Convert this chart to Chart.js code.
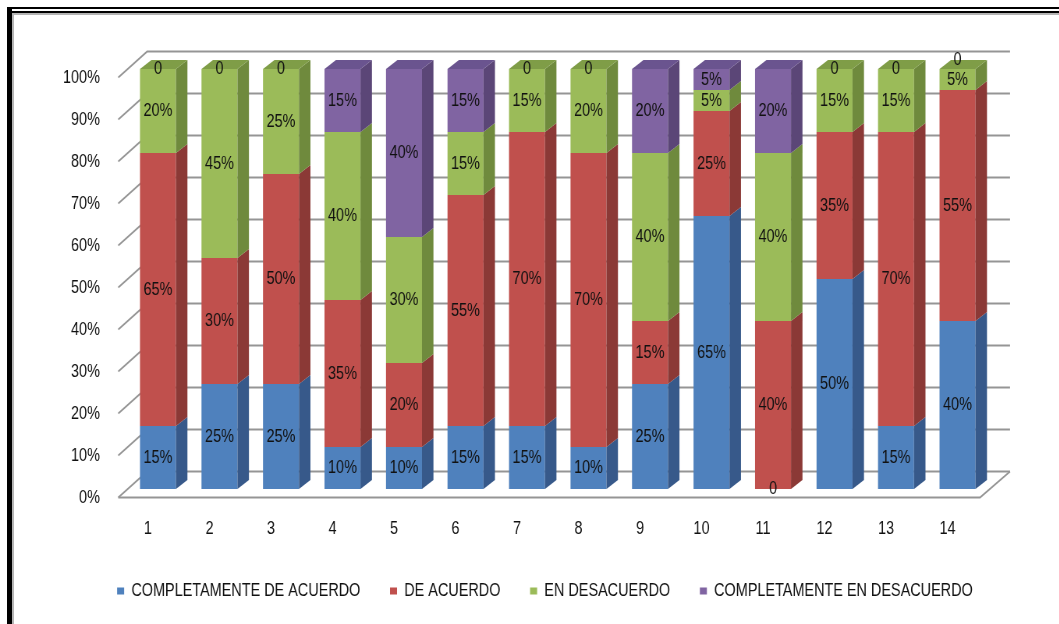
<!DOCTYPE html>
<html>
<head>
<meta charset="utf-8">
<script src="https://cdn.jsdelivr.net/npm/chart.js@4.4.1/dist/chart.umd.min.js"></script>
<style>
  html, body { margin: 0; padding: 0; background: #fff; overflow: hidden; width: 1059px; height: 624px; }
  /* the chart is laid out wide and squeezed horizontally, giving the narrow lettering */
  #stage { position: absolute; left: 0; top: 0; width: 1358px; height: 624px; transform: scaleX(0.78); transform-origin: 0 0; }
  .rule { position: absolute; }
</style>
</head>
<body>
<div id="stage"><canvas id="chart"></canvas></div>
<!-- double frame along the top and left edges -->
<div class="rule" style="left:7px;top:7px;width:1052px;height:2px;background:#000"></div>
<div class="rule" style="left:7px;top:11px;width:1052px;height:2px;background:#000"></div>
<div class="rule" style="left:12px;top:13px;width:1047px;height:2px;background:#b4b4b4"></div>
<div class="rule" style="left:7px;top:7px;width:5px;height:617px;background:#000"></div>
<div class="rule" style="left:12px;top:13px;width:2px;height:611px;background:#b4b4b4"></div>
<script>
// Survey items 1..14 and the share of answers per option (percent)
const categories = ['1', '2', '3', '4', '5', '6', '7', '8', '9', '10', '11', '12', '13', '14'];
const completamenteDeAcuerdo   = [15, 25, 25, 10, 10, 15, 15, 10, 25, 65,  0, 50, 15, 40];
const deAcuerdo                = [65, 30, 50, 35, 20, 55, 70, 70, 15, 25, 40, 35, 70, 55];
const enDesacuerdo             = [20, 45, 25, 40, 30, 15, 15, 20, 40,  5, 40, 15, 15,  5];
const completamenteEnDesacuerdo = [0,  0,  0, 15, 40, 15,  0,  0, 20,  5, 20,  0,  0,  0];
const seriesNames = ['COMPLETAMENTE DE ACUERDO', 'DE ACUERDO', 'EN DESACUERDO', 'COMPLETAMENTE EN DESACUERDO'];
const yTickValues = [0, 10, 20, 30, 40, 50, 60, 70, 80, 90, 100];

const FONT = '"Liberation Sans", Arial, sans-serif';
const FONT_SIZE = 18.5;
const palette = [
  { front: '#4f81bd', side: '#37598a', top: '#4573a8' },
  { front: '#c0504d', side: '#8b3936', top: '#a64542' },
  { front: '#9bbb59', side: '#6f8a3d', top: '#7f9d47' },
  { front: '#8064a2', side: '#5b4677', top: '#6a548f' }
];
const seriesValues = [completamenteDeAcuerdo, deAcuerdo, enDesacuerdo, completamenteEnDesacuerdo];

// 3D geometry (canvas units)
const BAR_DX = 14.7, BAR_DY = 9;                  // bar side / top depth
const WALL = { frontL: -11.5, backL: 25.6, frontR: -10.6, backR: 27.9, frontDy: 8.5, backDy: -17.5 };
const GRID_COLOR = '#959595';

const depthPlugin = {
  id: 'depth3d',
  beforeDatasetsDraw(chart) {
    const { ctx, chartArea: a, scales: { y } } = chart;
    const lf = a.left + WALL.frontL, lb = a.left + WALL.backL;
    const rf = a.right + WALL.frontR, rb = a.right + WALL.backR;
    ctx.save();
    ctx.strokeStyle = GRID_COLOR;
    ctx.lineWidth = 2;
    yTickValues.forEach(v => {
      const py = y.getPixelForValue(v);
      ctx.beginPath();
      ctx.moveTo(lf, py + WALL.frontDy);
      ctx.lineTo(lb, py + WALL.backDy);
      ctx.lineTo(rb, py + WALL.backDy);
      ctx.stroke();
    });
    // floor outline
    const p0 = y.getPixelForValue(0);
    ctx.beginPath();
    ctx.moveTo(lf, p0 + WALL.frontDy);
    ctx.lineTo(rf, p0 + WALL.frontDy);
    ctx.lineTo(rb, p0 + WALL.backDy);
    ctx.stroke();
    ctx.restore();
  },
  afterDatasetsDraw(chart) {
    const { ctx } = chart;
    const metas = chart.data.datasets.map((d, i) => chart.getDatasetMeta(i));
    ctx.save();
    // side faces
    metas.forEach((meta, di) => {
      meta.data.forEach((el, i) => {
        if (!(seriesValues[di][i] > 0)) return;
        const p = el.getProps(['x', 'y', 'base', 'width'], true);
        const r = p.x + p.width / 2;
        ctx.fillStyle = palette[di].side;
        ctx.beginPath();
        ctx.moveTo(r, p.base);
        ctx.lineTo(r, p.y);
        ctx.lineTo(r + BAR_DX, p.y - BAR_DY);
        ctx.lineTo(r + BAR_DX, p.base - BAR_DY);
        ctx.closePath();
        ctx.fill();
      });
    });
    // top faces
    categories.forEach((c, i) => {
      let top = -1;
      seriesValues.forEach((vals, di) => { if (vals[i] > 0) top = di; });
      if (top < 0) return;
      const p = metas[top].data[i].getProps(['x', 'y', 'width'], true);
      const l = p.x - p.width / 2, r = p.x + p.width / 2;
      ctx.fillStyle = palette[top].top;
      ctx.beginPath();
      ctx.moveTo(l, p.y);
      ctx.lineTo(l + BAR_DX, p.y - BAR_DY);
      ctx.lineTo(r + BAR_DX, p.y - BAR_DY);
      ctx.lineTo(r, p.y);
      ctx.closePath();
      ctx.fill();
    });
    // value labels
    ctx.font = FONT_SIZE + 'px ' + FONT;
    ctx.fillStyle = '#111';
    ctx.textAlign = 'center';
    ctx.textBaseline = 'middle';
    metas.forEach((meta, di) => {
      meta.data.forEach((el, i) => {
        const v = seriesValues[di][i];
        const p = el.getProps(['x', 'y', 'base'], true);
        if (v > 0) {
          ctx.fillText(v + '%', p.x, (p.y + p.base) / 2);
        } else {
          // empty segment: a plain 0 at its position, lifted when the label below is close
          const below = di > 0 ? seriesValues[di - 1][i] : 100;
          const lift = below > 0 && below < 10 ? 9 : 0;
          ctx.fillText('0', p.x, p.y - lift);
        }
      });
    });
    ctx.restore();
  }
};

new Chart(document.getElementById('chart'), {
  type: 'bar',
  data: {
    labels: categories,
    datasets: seriesValues.map((vals, i) => ({
      label: seriesNames[i],
      data: vals,
      backgroundColor: palette[i].front,
      borderWidth: 0,
      categoryPercentage: 0.585,
      barPercentage: 1
    }))
  },
  options: {
    responsive: true,
    maintainAspectRatio: false,
    animation: false,
    events: [],
    layout: { padding: { left: 75, right: 35.7, top: 69, bottom: 13.75 } },
    plugins: {
      tooltip: { enabled: false },
      legend: {
        position: 'bottom',
        align: 'center',
        labels: {
          boxWidth: 9,
          boxHeight: 7,
          padding: 38,
          color: '#111',
          font: { family: FONT, size: FONT_SIZE }
        }
      }
    },
    scales: {
      x: {
        stacked: true,
        grid: { display: false },
        border: { display: false },
        ticks: { color: '#111', font: { family: FONT, size: FONT_SIZE }, padding: 21, labelOffset: -12.8, maxRotation: 0 },
        afterFit(scale) { scale.height = 54.75; }
      },
      y: {
        stacked: true,
        min: 0,
        max: 100,
        grid: { display: false },
        border: { display: false },
        ticks: {
          stepSize: 10,
          autoSkip: false,
          color: '#111',
          font: { family: FONT, size: FONT_SIZE },
          padding: 27,
          labelOffset: 9,
          callback: v => v + '%'
        },
        afterFit(scale) { scale.width = 88.1; }
      },
      // empty right-hand band that keeps the plot clear of the wall's far edge
      yRight: {
        position: 'right',
        display: true,
        grid: { display: false },
        border: { display: false },
        ticks: { display: false },
        afterFit(scale) { scale.width = 55.3; }
      }
    }
  },
  plugins: [depthPlugin]
});
</script>
</body>
</html>
